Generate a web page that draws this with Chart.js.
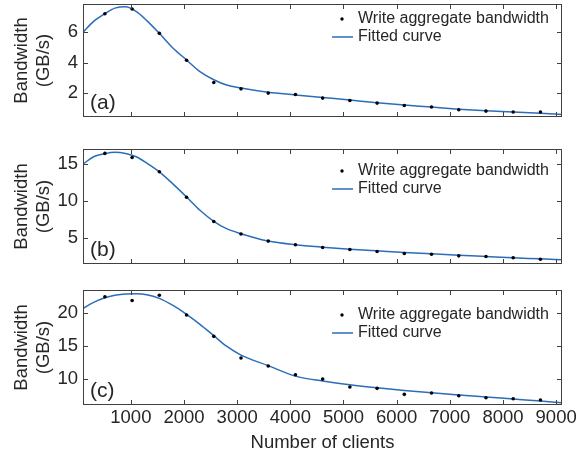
<!DOCTYPE html>
<html>
<head>
<meta charset="utf-8">
<script src="https://cdn.jsdelivr.net/npm/chart.js@4.4.1/dist/chart.umd.min.js"></script>
<style>
  body { margin: 0; background: #fff; }
  #wrap { position: relative; width: 587px; height: 458px; overflow: hidden; }
  canvas { position: absolute; left: 0; }
</style>
</head>
<body>
<div id="wrap">
  <canvas id="pa" width="587" height="140" style="top:0"></canvas>
  <canvas id="pb" width="587" height="140" style="top:140px"></canvas>
  <canvas id="pc" width="587" height="178" style="top:280px"></canvas>
</div>
<script>
// measured points, one per client count
const clients = [512, 1024, 1536, 2048, 2560, 3072, 3584, 4096, 4608, 5120, 5632, 6144, 6656, 7168, 7680, 8192, 8704];
const bwA = [7.23, 7.54, 5.93, 4.15, 2.68, 2.26, 1.98, 1.89, 1.65, 1.49, 1.32, 1.16, 1.06, 0.88, 0.79, 0.73, 0.73];
const bwB = [16.45, 15.9, 13.95, 10.5, 7.2, 5.5, 4.54, 4.04, 3.68, 3.4, 3.13, 2.86, 2.76, 2.54, 2.45, 2.27, 2.08];
const bwC = [22.53, 21.95, 22.76, 19.75, 16.5, 13.2, 12.0, 10.65, 10.0, 8.79, 8.59, 7.68, 7.88, 7.47, 7.17, 7.02, 6.82];

// fitted curves
const fitX = [100, 300, 512, 700, 900, 1100, 1300, 1536, 1800, 2048, 2300, 2560, 2800, 3072, 3584, 4096, 4608, 5120, 5632, 6144, 6656, 7168, 7680, 8192, 8704, 9110];
const fitA = [6.0, 6.72, 7.23, 7.6, 7.69, 7.38, 6.77, 5.93, 4.93, 4.17, 3.40, 2.86, 2.51, 2.31, 2.03, 1.86, 1.69, 1.52, 1.34, 1.19, 1.06, 0.92, 0.81, 0.73, 0.64, 0.57];
const fitB = [15.0, 16.0, 16.42, 16.6, 16.45, 16.0, 15.14, 13.95, 12.25, 10.54, 8.73, 7.23, 6.23, 5.55, 4.55, 4.05, 3.72, 3.45, 3.22, 3.0, 2.82, 2.63, 2.45, 2.27, 2.13, 2.0];
const fitC = [20.76, 21.67, 22.37, 22.74, 22.94, 22.97, 22.84, 22.28, 21.16, 19.85, 18.33, 16.6, 15.0, 13.65, 12.05, 10.45, 9.7, 9.14, 8.68, 8.28, 7.93, 7.58, 7.27, 6.97, 6.67, 6.41];

const xTicks = [1000, 2000, 3000, 4000, 5000, 6000, 7000, 8000, 9000];
const yTicksA = [2, 4, 6];
const yTicksB = [5, 10, 15];
const yTicksC = [10, 15, 20];

const INK = '#262626';
const FONT = '"Liberation Sans", Arial, Helvetica, sans-serif';
Chart.defaults.font.family = FONT;
Chart.defaults.color = INK;

// box, inward ticks, legend and panel tag
const frame = {
  id: 'frame',
  afterDatasetsDraw(chart, args, opts) {
    const { ctx, chartArea: a, scales: { x, y } } = chart;
    ctx.save();
    ctx.strokeStyle = '#404040';
    ctx.lineWidth = 1;
    ctx.beginPath();
    x.ticks.forEach(t => {
      const px = Math.round(x.getPixelForValue(t.value)) + 0.5;
      ctx.moveTo(px, a.bottom); ctx.lineTo(px, a.bottom - 5);
      ctx.moveTo(px, a.top); ctx.lineTo(px, a.top + 5);
    });
    y.ticks.forEach(t => {
      const py = Math.round(y.getPixelForValue(t.value)) + 0.5;
      ctx.moveTo(a.left, py); ctx.lineTo(a.left + 5, py);
      ctx.moveTo(a.right, py); ctx.lineTo(a.right - 5, py);
    });
    ctx.stroke();
    ctx.strokeRect(a.left + 0.5, a.top + 0.5, a.width - 1, a.height - 1);

    ctx.fillStyle = INK;
    ctx.textBaseline = 'middle';
    ctx.font = '16px ' + FONT;
    const lx = opts.legendX;
    chart.data.datasets.forEach((ds, i) => {
      const cy = a.top + opts.legendY + i * 18;
      if (ds.showLine === false) {
        ctx.beginPath();
        ctx.arc(lx + 10, cy, 1.7, 0, Math.PI * 2);
        ctx.fillStyle = ds.backgroundColor;
        ctx.fill();
      } else {
        ctx.beginPath();
        ctx.strokeStyle = ds.borderColor;
        ctx.lineWidth = ds.borderWidth;
        ctx.moveTo(lx, cy); ctx.lineTo(lx + 21, cy);
        ctx.stroke();
      }
      ctx.fillStyle = INK;
      ctx.fillText(ds.label, lx + 26, cy);
    });

    ctx.font = '21px ' + FONT;
    ctx.fillText(opts.tag, a.left + 7, a.bottom - 14);
    ctx.restore();
  }
};

function noPad(s) {
  s.paddingTop = 0;
  s.paddingBottom = 0;
  s.paddingLeft = 0;
  s.paddingRight = 0;
}

function panel(id, bw, fit, yTicks, yMin, yMax, tag, legendY, chartTop, chartBottom, withX) {
  const canvas = document.getElementById(id);
  const h = canvas.height;
  return new Chart(canvas, {
    type: 'line',
    data: {
      datasets: [
        {
          label: 'Write aggregate bandwidth',
          type: 'scatter',
          showLine: false,
          data: clients.map((c, i) => ({ x: c, y: bw[i] })),
          backgroundColor: '#000',
          borderColor: '#000',
          pointRadius: 1.8,
          pointBorderWidth: 0,
        },
        {
          label: 'Fitted curve',
          data: fitX.map((c, i) => ({ x: c, y: fit[i] })),
          borderColor: '#2c6db9',
          borderWidth: 1.5,
          pointRadius: 0,
          fill: false,
          cubicInterpolationMode: 'monotone',
        },
      ],
    },
    options: {
      responsive: false,
      animation: false,
      events: [],
      layout: { padding: { top: chartTop, right: 25, left: 0, bottom: 0 } },
      plugins: {
        legend: { display: false },
        tooltip: { enabled: false },
        frame: { legendX: 332, legendY: legendY, tag: tag },
      },
      scales: {
        x: {
          type: 'linear',
          min: 100,
          max: 9110,
          afterBuildTicks: s => { s.ticks = xTicks.map(v => ({ value: v })); },
          afterFit: s => { s.height = h - chartBottom; noPad(s); },
          grid: { display: false, drawTicks: false },
          border: { display: false },
          ticks: {
            display: withX,
            padding: 2,
            font: { size: 18.5 },
            color: INK,
            maxRotation: 0,
            autoSkip: false,
            callback: v => String(v),
          },
          title: {
            display: withX,
            text: 'Number of clients',
            font: { size: 18.5 },
            color: INK,
            padding: { top: 0, bottom: 4 },
          },
        },
        y: {
          min: yMin,
          max: yMax,
          afterBuildTicks: s => { s.ticks = yTicks.map(v => ({ value: v })); },
          afterFit: s => { s.width = 83; noPad(s); },
          grid: { display: false, drawTicks: false },
          border: { display: false },
          ticks: { padding: 5, font: { size: 18.5 }, color: INK },
          title: {
            display: true,
            text: ['Bandwidth', '(GB/s)'],
            font: { size: 18.5, lineHeight: 1.17 },
            color: INK,
            padding: { top: 11, bottom: 0 },
          },
        },
      },
    },
    plugins: [frame],
  });
}

panel('pa', bwA, fitA, yTicksA, 0.4, 7.87, '(a)', 15, 4, 117, false);
panel('pb', bwB, fitB, yTicksB, 1.43, 17.05, '(b)', 22, 9, 124, false);
panel('pc', bwC, fitC, yTicksC, 6.06, 23.55, '(c)', 25, 10, 125, true);
</script>
</body>
</html>
